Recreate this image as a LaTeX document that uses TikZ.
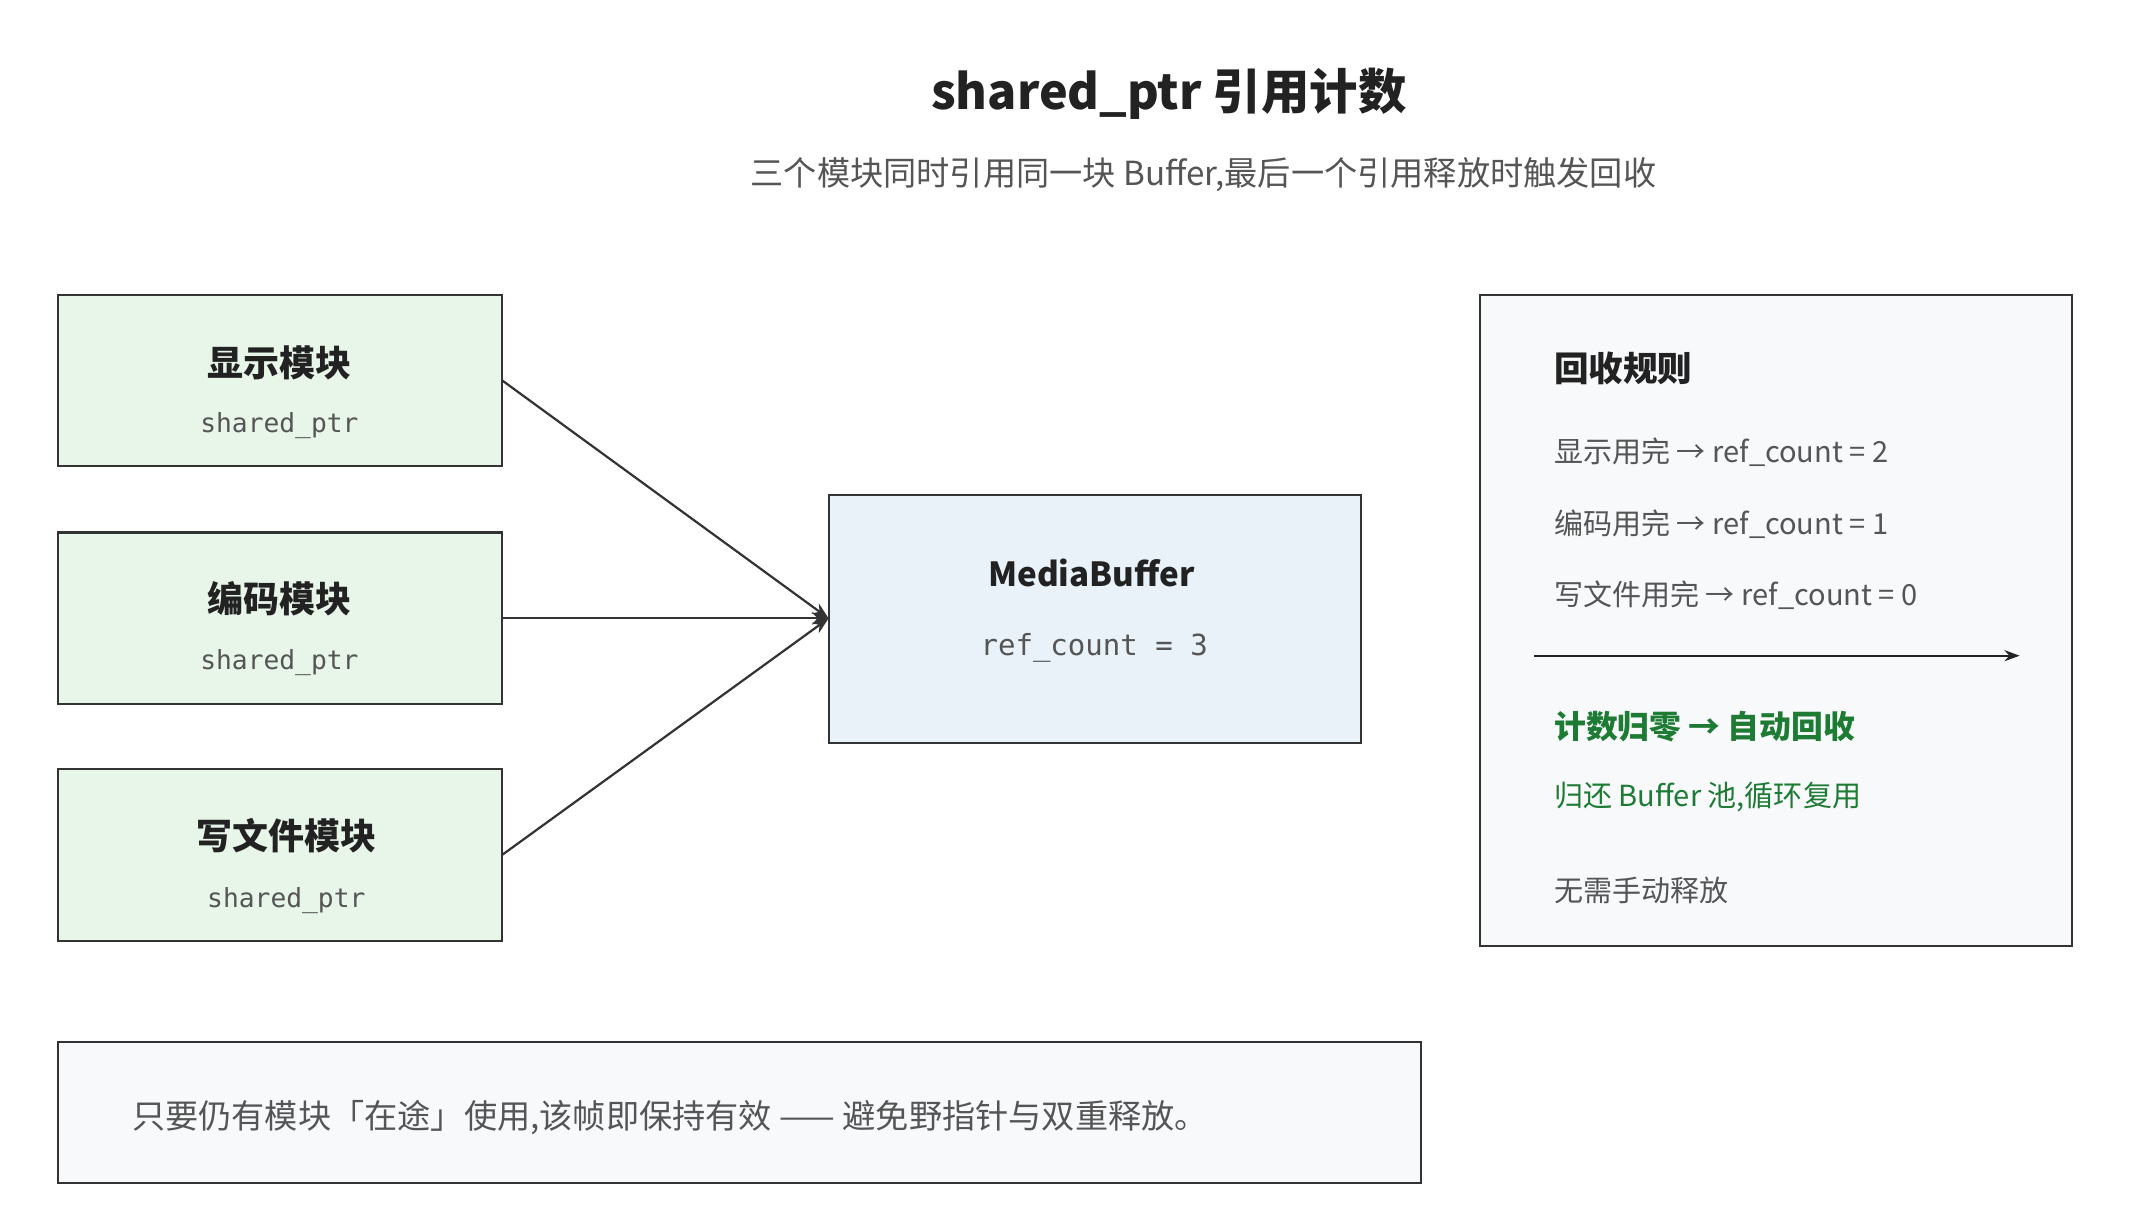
\documentclass[tikz,border=0pt]{standalone}
\usepackage{fontspec}
\setmainfont{Noto Sans CJK SC}
\setmonofont{DejaVu Sans Mono}
\usetikzlibrary{arrows.meta}
\definecolor{txt}{HTML}{222222}
\definecolor{gry}{HTML}{555555}
\definecolor{grn}{HTML}{1E7B34}
\definecolor{gfill}{HTML}{E8F5E9}
\definecolor{bfill}{HTML}{E8F2F8}
\definecolor{pfill}{HTML}{F7F9FB}
\definecolor{edge}{HTML}{333333}
\begin{document}
\begin{tikzpicture}[x=1pt,y=-1pt,
  box/.style={draw=edge,line width=1.6pt},
  mod/.style={box,fill=gfill},
  ttl/.style={font=\fontsize{26}{30}\selectfont\bfseries,text=txt},
  sub/.style={font=\ttfamily\fontsize{19}{22}\selectfont,text=gry},
  rl/.style={anchor=west,font=\fontsize{21}{25}\selectfont,text=gry},
  conn/.style={draw=edge,line width=1.6pt,-{Stealth[length=12pt,width=9pt]}}]
\useasboundingbox (0,0) rectangle (1547,885);
\node[font=\fontsize{35}{40}\selectfont\bfseries,text=txt] (title) at (845,68) {shared\_ptr 引用计数};
\node[font=\fontsize{24}{28}\selectfont,text=gry] (subt) at (870,126) {三个模块同时引用同一块 Buffer,最后一个引用释放时触发回收};
\foreach \n/\t/\y in {a/显示模块/213, b/编码模块/385, c/写文件模块/556}{
  \draw[mod] (42,\y) rectangle (363,\y+124);
  \coordinate (\n) at (363,\y+62);
}
\node[ttl] (ta) at (202,262) {显示模块};
\node[sub] (sa) at (202,308) {shared\_ptr};
\node[ttl] (tb) at (202,433) {编码模块};
\node[sub] (sb) at (202,479) {shared\_ptr};
\node[ttl] (tc) at (207,604) {写文件模块};
\node[sub] (sc) at (207,651) {shared\_ptr};
\draw[box,fill=bfill] (599,358) rectangle (984,537);
\coordinate (m) at (599,447);
\node[font=\fontsize{24}{28}\selectfont\bfseries,text=txt] (mb) at (789,414) {MediaBuffer};
\node[font=\ttfamily\fontsize{21}{25}\selectfont,text=gry] (rc) at (791,468) {ref\_count = 3};
\draw[conn] (a) -- (m);
\draw[conn] (b) -- (m);
\draw[conn] (c) -- (m);
\draw[box,fill=pfill] (1070,213) rectangle (1498,684);
\node[anchor=west,font=\fontsize{25}{30}\selectfont\bfseries,text=txt] (rt) at (1120,266) {回收规则};
\node[rl] (r1) at (1120,327) {显示用完 → ref\_count = 2};
\node[rl] (r2) at (1120,379) {编码用完 → ref\_count = 1};
\node[rl] (r3) at (1120,430) {写文件用完 → ref\_count = 0};
\coordinate (l1) at (1109,474); \coordinate (l2) at (1460,474);
\draw[draw=txt,line width=1.6pt,-{Stealth[length=11pt,width=8pt]}] (l1) -- (l2);
\node[anchor=west,font=\fontsize{23}{28}\selectfont\bfseries,text=grn] (g1) at (1120,525) {计数归零 → 自动回收};
\node[rl,text=grn] (g2) at (1120,576) {归还 Buffer 池,循环复用};
\node[rl] (g3) at (1120,644) {无需手动释放};
\draw[box,fill=pfill] (42,753) rectangle (1027,855);
\node[anchor=west,font=\fontsize{24}{28}\selectfont,text=gry] (note) at (92,808) {只要仍有模块「在途」使用,该帧即保持有效 —— 避免野指针与双重释放。};
\end{tikzpicture}
\end{document}
